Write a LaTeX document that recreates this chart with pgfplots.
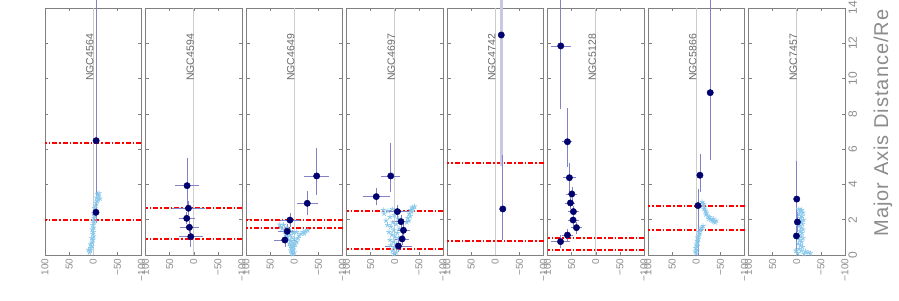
\documentclass[border=0pt]{standalone}
\usepackage{fontspec}
\setmainfont{Liberation Sans}
\newfontfamily\labfont[LetterSpace=5]{Liberation Sans}
\usepackage{pgfplots}
\pgfplotsset{compat=1.18}
\definecolor{navyp}{RGB}{0,0,110}
\definecolor{errc}{RGB}{130,130,200}
\definecolor{starc}{RGB}{135,200,235}
\definecolor{framec}{RGB}{128,128,128}
\definecolor{labc}{RGB}{140,140,140}
\definecolor{namec}{RGB}{105,105,105}
\definecolor{redc}{RGB}{255,0,0}
\tikzset{gname/.style={rotate=90, anchor=base east, font=\fontsize{10.5}{10.5}\selectfont, text=namec}}
\pgfplotsset{
 panel/.style={
  at={(#1pt,45pt)}, anchor=south west, scale only axis, width=96.5pt, height=247pt,
  xmin=-100, xmax=100, x dir=reverse, ymin=0, ymax=14, clip=false,
  xtick={-100,-50,0,50,100}, xticklabels={−100,−50,0,50,100},
  ytick={0,2,4,6,8,10,12,14}, yticklabels={},
  axis line style={framec, line width=0.6pt},
  tick style={framec, line width=0.5pt}, major tick length=3.5pt,
  tick align=inside,
  xticklabel style={rotate=90, anchor=east, font=\fontsize{10}{10}\selectfont, text=labc},
 },
 pts/.style={only marks, mark=*, mark size=3.2pt, color=navyp, mark options={fill=navyp, draw=navyp},
   error bars/.cd, x dir=both, x explicit, y dir=both, y explicit,
   error bar style={errc, line width=0.6pt}, error mark options={errc, mark size=1.6pt, line width=0.6pt}},
 stars/.style={only marks, mark=star, mark size=2.6pt, color=starc, mark options={line width=0.8pt}},
 redl/.style={draw=redc, color=redc, line width=1.8pt, dash pattern=on 5pt off 2pt on 1.5pt off 2pt},
 zl/.style={black!20, line width=0.7pt},
}
\begin{document}
\begin{tikzpicture}[x=1pt,y=1pt]
\path[use as bounding box] (0,0) rectangle (899,300);
% ---------- Panel 1
\begin{axis}[panel=45]
\addplot[zl] coordinates {(0,0) (0,14)};
\addplot[redl] coordinates {(-100,6.33) (100,6.33)};
\addplot[redl] coordinates {(-100,1.98) (100,1.98)};
\addplot[stars] coordinates {(8,0.15) (6,0.25) (10,0.3) (5,0.4) (3,0.5) (6,0.6) (2,0.7) (1,0.85) (3,0.95) (-1,1.05) (1,1.2) (0,1.3) (2,1.45) (-1,1.55) (1,1.7) (-2,1.85) (0,1.95) (-2,2.1) (-3,2.25) (-1,2.35) (-4,2.5) (-3,2.65) (-5,2.8) (-6,2.95) (-8,3.05) (-10,3.15) (-7,3.25) (-11,3.35) (-9,3.45) (-12,3.5) (-14,3.2)};
\addplot[pts] table[x=x,y=y,x error plus=xp,x error minus=xm,y error plus=yp,y error minus=ym] {
x y xp xm yp ym
-6 6.48 0 0 8.0 3.1
-5.6 2.42 0 0 0.5 0.5
};
\node[gname] at (axis cs:0,12.72) {NGC4564};
\end{axis}
% ---------- Panel 2
\begin{axis}[panel=145.5]
\addplot[zl] coordinates {(0,0) (0,14)};
\addplot[redl] coordinates {(-100,2.65) (100,2.65)};
\addplot[redl] coordinates {(-100,0.91) (100,0.91)};
\addplot[pts] table[x=x,y=y,x error plus=xp,x error minus=xm,y error plus=yp,y error minus=ym] {
x y xp xm yp ym
13.8 3.93 21.5 21.5 1.49 1.2
11 2.65 31 31 0.3 0.3
14.5 2.08 13 13 0.25 0.25
9 1.57 16 16 0.25 0.25
6.2 1.04 21.5 21.5 0.3 0.5
};
\node[gname] at (axis cs:0,12.72) {NGC4594};
\end{axis}
% ---------- Panel 3
\begin{axis}[panel=246]
\addplot[zl] coordinates {(0,0) (0,14)};
\addplot[redl] coordinates {(-100,1.98) (100,1.98)};
\addplot[redl] coordinates {(-100,1.53) (100,1.53)};
\addplot[stars] coordinates {(3,0.05) (5,0.1) (0,0.15) (4,0.2) (7,0.25) (2,0.3) (6,0.4) (1,0.45) (8,0.5) (4,0.55) (-2,0.6) (10,0.65) (3,0.7) (-5,0.75) (7,0.8) (12,0.85) (0,0.9) (-8,0.95) (5,1.0) (15,1.05) (-10,1.1) (9,1.15) (18,1.2) (-14,1.2) (2,1.25) (-18,1.3) (-24,1.35) (-28,1.4) (-21,1.22) (20,1.4) (25,1.5) (15,1.55) (28,1.6) (22,1.7) (12,1.45) (-5,1.3) (8,1.35) (30,1.72)};
\addplot[pts] table[x=x,y=y,x error plus=xp,x error minus=xm,y error plus=yp,y error minus=ym] {
x y xp xm yp ym
-46.5 4.48 22 22 1.47 0.98
-27 2.93 18 18 0.58 0.58
9 1.98 17 17 0.3 0.3
14.6 1.34 15.6 15.6 0.3 0.3
19.5 0.85 19 19 0.3 0.3
};
\node[gname] at (axis cs:0,12.72) {NGC4649};
\end{axis}
% ---------- Panel 4
\begin{axis}[panel=346.5]
\addplot[zl] coordinates {(0,0) (0,14)};
\addplot[redl] coordinates {(-100,2.49) (100,2.49)};
\addplot[redl] coordinates {(-100,0.36) (100,0.36)};
\addplot[stars] coordinates {(2,0.05) (-3,0.15) (5,0.25) (-6,0.35) (1,0.45) (8,0.55) (-4,0.65) (3,0.75) (10,0.85) (-8,0.95) (0,1.05) (6,1.15) (-5,1.25) (12,1.3) (2,1.4) (-9,1.5) (8,1.6) (15,1.7) (-3,1.75) (4,1.85) (18,1.95) (-7,2.05) (10,2.15) (1,2.25) (22,2.35) (-2,2.45) (14,2.5) (24,2.55) (5,2.6) (-25,1.85) (-29,1.95) (-27,2.1) (-32,2.2) (-30,2.35) (-35,2.45) (-33,2.55) (-38,2.6) (-36,2.7) (-41,2.75)};
\addplot[pts] table[x=x,y=y,x error plus=xp,x error minus=xm,y error plus=yp,y error minus=ym] {
x y xp xm yp ym
8.3 4.48 16 16 1.8 0.83
38.3 3.31 25 25 0.4 0.4
-5.4 2.46 20 20 0.3 0.3
-13 1.89 16 16 0.3 0.3
-18 1.40 11 11 0.25 0.25
-15.2 0.91 11 11 0.25 0.25
-7.6 0.51 24 24 0.25 0.25
};
\node[gname] at (axis cs:0,12.72) {NGC4697};
\end{axis}
% ---------- Panel 5
\begin{axis}[panel=447]
\addplot[zl] coordinates {(0,0) (0,14)};
\addplot[redl] coordinates {(-100,5.2) (100,5.2)};
\addplot[redl] coordinates {(-100,0.79) (100,0.79)};
\addplot[only marks, mark=*, mark size=3.2pt, color=navyp, mark options={fill=navyp, draw=navyp},
  error bars/.cd, y dir=both, y explicit,
  error bar style={errc!45, line width=3pt}, error mark=none]
  table[x=x,y=y,y error plus=yp,y error minus=ym] {
x y yp ym
-12.5 12.47 2.1 7.4
};
\addplot[pts] table[x=x,y=y,x error plus=xp,x error minus=xm,y error plus=yp,y error minus=ym] {
x y xp xm yp ym
-15.6 2.61 0 0 2.96 1.66
};
\node[gname] at (axis cs:0,12.72) {NGC4742};
\end{axis}
% ---------- Panel 6
\begin{axis}[panel=547.5]
\addplot[zl] coordinates {(0,0) (0,14)};
\addplot[redl] coordinates {(-100,0.95) (100,0.95)};
\addplot[redl] coordinates {(-100,0.28) (100,0.28)};
\addplot[pts] table[x=x,y=y,x error plus=xp,x error minus=xm,y error plus=yp,y error minus=ym] {
x y xp xm yp ym
72.5 11.85 17 17 2.6 3.5
58.7 6.42 7 7 1.84 1.32
54.6 4.38 10 10 0.72 0.7
49.6 3.46 8 8 0.3 0.3
52.5 2.95 7 7 0.25 0.25
46.3 2.46 8 8 0.25 0.25
47 1.98 8 8 0.25 0.25
40 1.55 8 8 0.25 0.25
58.7 1.13 8.6 8.6 0.25 0.25
73 0.76 16 16 0.3 0.3
};
\node[gname] at (axis cs:0,12.72) {NGC5128};
\end{axis}
% ---------- Panel 7
\begin{axis}[panel=648]
\addplot[zl] coordinates {(0,0) (0,14)};
\addplot[redl] coordinates {(-100,2.78) (100,2.78)};
\addplot[redl] coordinates {(-100,1.42) (100,1.42)};
\addplot[stars] coordinates {(0,0.1) (2,0.2) (-1,0.3) (1,0.4) (-2,0.5) (0,0.6) (-3,0.7) (-2,0.8) (-4,0.9) (-3,1.0) (-5,1.1) (-7,1.2) (-6,1.3) (-9,1.4) (-10,1.5) (-12,1.55) (-14,1.65) (-12,3.0) (-15,2.9) (-14,2.8) (-17,2.7) (-16,2.6) (-19,2.5) (-21,2.4) (-20,2.3) (-24,2.2) (-27,2.15) (-26,2.05) (-30,2.0) (-33,1.95) (-36,1.9) (-35,2.05) (-39,1.85) (-41,1.95)};
\addplot[pts] table[x=x,y=y,x error plus=xp,x error minus=xm,y error plus=yp,y error minus=ym] {
x y xp xm yp ym
-3.5 2.80 0 0 0.86 2.75
-7.6 4.52 0 0 1.1 0.84
-29 9.2 0 0 5.3 3.7
};
\node[gname] at (axis cs:0,12.72) {NGC5866};
\end{axis}
% ---------- Panel 8
\begin{axis}[panel=748.5, yticklabel pos=right, yticklabels={0,2,4,6,8,10,12,14},
  yticklabel style={rotate=90, anchor=north, font=\fontsize{12}{12}\selectfont, text=labc}]
\addplot[zl] coordinates {(0,0) (0,14)};
\addplot[stars] coordinates {(-4,2.6) (-10,2.55) (-7,2.45) (-13,2.4) (-5,2.3) (-11,2.2) (-8,2.1) (-14,2.0) (-6,1.95) (-10,1.85) (-12,1.75) (-5,1.65) (-9,1.55) (-13,1.45) (-7,1.35) (-11,1.25) (-4,1.15) (-9,1.05) (-13,0.95) (-6,0.85) (-10,0.75) (-3,0.65) (-8,0.55) (-12,0.45) (-5,0.35) (2,0.25) (-10,0.25) (-18,0.2) (-24,0.15) (-28,0.1) (-15,0.05) (-2,0.1)};
\addplot[pts] table[x=x,y=y,x error plus=xp,x error minus=xm,y error plus=yp,y error minus=ym] {
x y xp xm yp ym
0 3.17 0 0 2.08 1.3
-1.4 1.87 0 0 0.5 0.5
0.7 1.08 0 0 0.5 0.8
};
\node[gname] at (axis cs:0,12.72) {NGC7457};
\end{axis}
\node[rotate=90, font=\labfont\fontsize{20}{20}\selectfont, text=labc] at (883,177) {Major Axis Distance/Re};
\end{tikzpicture}
\end{document}
